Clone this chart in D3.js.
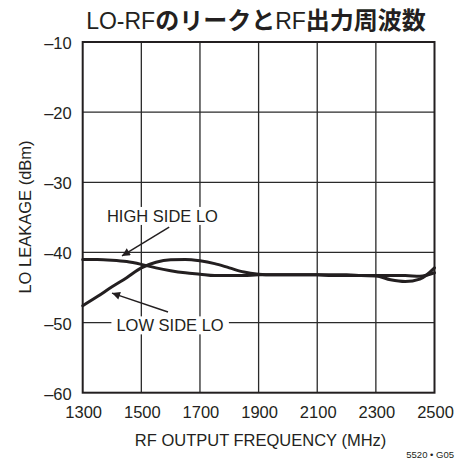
<!DOCTYPE html>
<html>
<head>
<meta charset="utf-8">
<script src="https://cdn.jsdelivr.net/npm/d3@7"></script>
<style>
    body { margin: 0; background: #ffffff; }
    text { fill: #231f20; }
</style>
</head>
<body>
<svg id="chart" width="457" height="458"></svg>
<script>
//chart data
var frequencies = [1300, 1350, 1400, 1450, 1500, 1550, 1600, 1650, 1700, 1750, 1800, 1850, 1900,
                   1950, 2000, 2050, 2100, 2150, 2200, 2250, 2300, 2350, 2400, 2450, 2500];
var highSideLO = [-41.0, -41.0, -41.1, -41.3, -41.7, -42.2, -42.6, -42.9, -43.1, -43.3, -43.3, -43.3, -43.2,
                  -43.2, -43.2, -43.2, -43.2, -43.3, -43.3, -43.3, -43.3, -43.3, -43.3, -43.4, -42.9];
var lowSideLO = [-47.6, -46.3, -44.9, -43.6, -42.2, -41.4, -41.05, -41.0, -41.2, -41.6, -42.2, -42.8, -43.1,
                 -43.2, -43.2, -43.2, -43.2, -43.2, -43.2, -43.3, -43.35, -43.9, -44.15, -43.8, -42.2];
var xTicks = [1300, 1500, 1700, 1900, 2100, 2300, 2500];
var yTicks = [-10, -20, -30, -40, -50, -60];
var titleParts = [
    { text: 'LO-RF', bold: false },
    { text: 'のリークと', bold: true },
    { text: 'RF', bold: false },
    { text: '出力周波数', bold: true }
];
var seriesLabels = ['HIGH SIDE LO', 'LOW SIDE LO'];

//annotation anchors in data units: label centre, arrow start, arrow tip
var annotations = [
    { label: seriesLabels[0], at: [1572, -34.8], from: [1595, -36.4], to: [1434, -40.5] },
    { label: seriesLabels[1], at: [1598, -50.4], from: [1591, -48.5], to: [1400, -45.8] }
];

//declare layout variables
var width = 457,
    height = 458,
    margin = { top: 42, right: 22.5, bottom: 65.3, left: 82.7 },
    ink = '#231f20',
    latinFont = '"Liberation Sans", Arial, sans-serif',
    cjkFont = '"Noto Sans CJK JP", sans-serif',
    fontSize = '16.5px';

var svg = d3.select('#chart');

//create scales
var x = d3.scaleLinear().domain([1300, 2500]).range([margin.left, width - margin.right]);
var y = d3.scaleLinear().domain([-60, -10]).range([height - margin.bottom, margin.top]);

//draw grid lines
svg.append('g')
    .selectAll('line')
    .data(xTicks.slice(1, -1))
    .enter()
    .append('line')
    .attr('x1', function (d) { return x(d); })
    .attr('x2', function (d) { return x(d); })
    .attr('y1', y(-10))
    .attr('y2', y(-60))
    .attr('stroke', '#2a2a2a')
    .attr('stroke-width', 1.3);

svg.append('g')
    .selectAll('line')
    .data(yTicks.slice(1, -1))
    .enter()
    .append('line')
    .attr('x1', x(1300))
    .attr('x2', x(2500))
    .attr('y1', function (d) { return y(d); })
    .attr('y2', function (d) { return y(d); })
    .attr('stroke', '#2a2a2a')
    .attr('stroke-width', 1.3);

//draw frame
svg.append('rect')
    .attr('x', x(1300))
    .attr('y', y(-10))
    .attr('width', x(2500) - x(1300))
    .attr('height', y(-60) - y(-10))
    .attr('fill', 'none')
    .attr('stroke', ink)
    .attr('stroke-width', 2);

//draw tick labels
svg.append('g')
    .selectAll('text')
    .data(yTicks)
    .enter()
    .append('text')
    .attr('x', x(1300) - 11)
    .attr('y', function (d) { return y(d) + 1; })
    .attr('text-anchor', 'end')
    .attr('dominant-baseline', 'central')
    .style('font-family', latinFont)
    .style('font-size', fontSize)
    .text(function (d) { return '\u2013' + Math.abs(d); });

svg.append('g')
    .selectAll('text')
    .data(xTicks)
    .enter()
    .append('text')
    .attr('x', function (d) { return x(d) + 1; })
    .attr('y', y(-60) + 19)
    .attr('text-anchor', 'middle')
    .attr('dominant-baseline', 'central')
    .style('font-family', latinFont)
    .style('font-size', fontSize)
    .text(function (d) { return d; });

//draw axis titles
svg.append('text')
    .attr('x', (x(1300) + x(2500)) / 2 + 2)
    .attr('y', 440)
    .attr('text-anchor', 'middle')
    .attr('dominant-baseline', 'central')
    .style('font-family', latinFont)
    .style('font-size', fontSize)
    .text('RF OUTPUT FREQUENCY (MHz)');

svg.append('text')
    .attr('transform', 'translate(25,217) rotate(-90)')
    .attr('text-anchor', 'middle')
    .attr('dominant-baseline', 'central')
    .style('font-family', latinFont)
    .style('font-size', fontSize)
    .text('LO LEAKAGE (dBm)');

svg.append('text')
    .attr('x', 454)
    .attr('y', 454)
    .attr('text-anchor', 'end')
    .attr('dominant-baseline', 'central')
    .style('font-family', latinFont)
    .style('font-size', '9.5px')
    .text('5520 \u2022 G05');

//draw title on a shared alphabetic baseline, latin parts thin and japanese parts bold
var title = svg.append('text')
    .attr('x', 256)
    .attr('y', 29)
    .attr('text-anchor', 'middle');

title.selectAll('tspan')
    .data(titleParts)
    .enter()
    .append('tspan')
    .style('font-family', function (d) { return d.bold ? cjkFont : latinFont; })
    .style('font-size', function (d) { return d.bold ? '24px' : '23px'; })
    .style('font-weight', function (d) { return d.bold ? 'bold' : 'normal'; })
    .text(function (d) { return d.text; });

//draw series lines
var line = d3.line()
    .x(function (d) { return x(d[0]); })
    .y(function (d) { return y(d[1]); })
    .curve(d3.curveMonotoneX);

[highSideLO, lowSideLO].forEach(function (serie) {
    svg.append('path')
        .datum(d3.zip(frequencies, serie))
        .attr('d', line)
        .attr('fill', 'none')
        .attr('stroke', ink)
        .attr('stroke-width', 3)
        .attr('stroke-linecap', 'round');
});

//arrow marker
svg.append('defs')
    .append('marker')
    .attr('id', 'arrow')
    .attr('viewBox', '0 0 10 10')
    .attr('refX', 10)
    .attr('refY', 5)
    .attr('markerWidth', 12)
    .attr('markerHeight', 8)
    .attr('markerUnits', 'userSpaceOnUse')
    .attr('orient', 'auto')
    .append('path')
    .attr('d', 'M0,0 L10,5 L0,10 Z')
    .attr('fill', ink);

//draw annotations
annotations.forEach(function (a) {
    var g = svg.append('g');
    var label = g.append('text')
        .attr('x', x(a.at[0]))
        .attr('y', y(a.at[1]))
        .attr('text-anchor', 'middle')
        .attr('dominant-baseline', 'central')
        .style('font-family', latinFont)
        .style('font-size', fontSize)
        .text(a.label);

    //white box behind the label hides the grid
    var box = label.node().getBBox();
    g.insert('rect', 'text')
        .attr('x', box.x - 5)
        .attr('y', box.y)
        .attr('width', box.width + 10)
        .attr('height', box.height)
        .attr('fill', '#ffffff');

    g.append('line')
        .attr('x1', x(a.from[0]))
        .attr('y1', y(a.from[1]))
        .attr('x2', x(a.to[0]))
        .attr('y2', y(a.to[1]))
        .attr('stroke', ink)
        .attr('stroke-width', 1.5)
        .attr('marker-end', 'url(#arrow)');
});
</script>
</body>
</html>
